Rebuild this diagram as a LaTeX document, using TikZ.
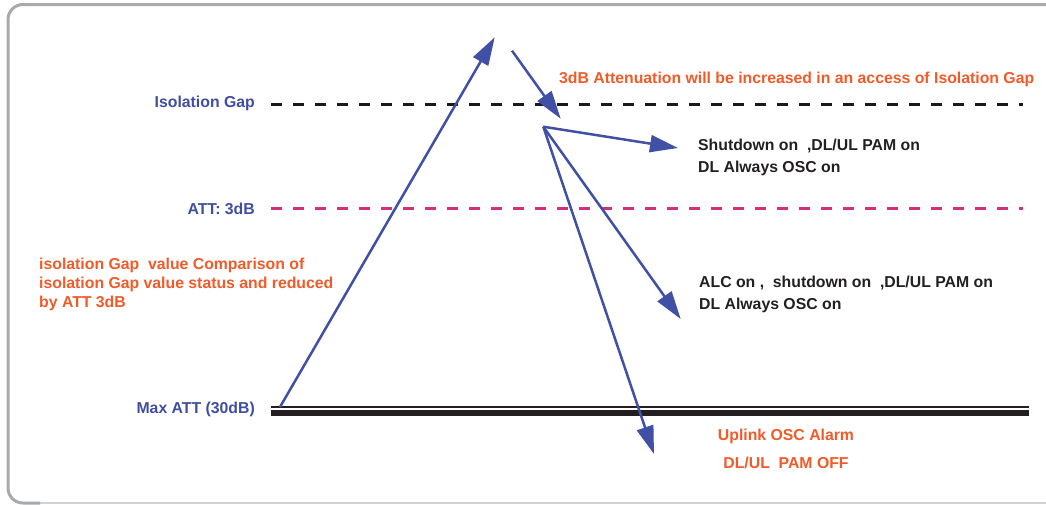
\documentclass[tikz,border=0pt]{standalone}
\usepackage{fontspec}
\setmainfont{Liberation Sans}
\usetikzlibrary{arrows.meta}
\definecolor{lblblue}{RGB}{63,78,158}
\definecolor{arrblue}{RGB}{64,80,164}
\definecolor{orng}{RGB}{241,90,41}
\definecolor{mgnt}{RGB}{214,45,125}
\definecolor{txtblack}{RGB}{35,31,32}
\definecolor{framegray}{RGB}{167,169,172}
\definecolor{framelight}{RGB}{209,211,212}
\begin{document}
\begin{tikzpicture}[x=1pt,y=-1pt,
  lvl/.style={font=\fontsize{15.8}{19}\selectfont\bfseries, text=lblblue, anchor=east, inner sep=0pt},
  note/.style={font=\fontsize{15.8}{22}\selectfont\bfseries, text=txtblack, anchor=west, align=left, inner sep=0pt},
  warn/.style={font=\fontsize{15.8}{19}\selectfont\bfseries, text=orng, inner sep=0pt},
  flow/.style={draw=arrblue, line width=2.5pt, -{Triangle[length=28pt,width=17pt]}},
  gapline/.style={line width=3pt, dash pattern=on 11pt off 11pt}]
\useasboundingbox (0,0) rectangle (1046,504);
\begin{scope}
\clip (0,0) rectangle (1046,504);
% frame
\draw[framelight, line width=1.5pt] (30,503) -- (1060,503);
\draw[framegray, line width=3pt, rounded corners=15pt] (1060,4.5) -- (8,4.5) -- (8,503) -- (40,503);
% level lines
\node[lvl] (isogap) at (255,103) {Isolation Gap};
\node[lvl] (att3) at (255,209) {ATT: 3dB};
\node[lvl] (maxatt) at (255,409) {Max ATT (30dB)};
\coordinate (isoL) at (271,104);
\coordinate (isoR) at (1023,104);
\coordinate (attL) at (271,208);
\coordinate (attR) at (1023,208);
\coordinate (maxL) at (271,406.7);
\coordinate (maxR) at (1029,406.7);
\coordinate (maxLb) at (271,413);
\coordinate (maxRb) at (1029,413);
\draw[gapline, black!90] (isoL) -- (isoR);
\draw[gapline, mgnt] (attL) -- (attR);
\draw[txtblack, line width=2pt] (maxL) -- (maxR);
\draw[txtblack, line width=5.3pt] (maxLb) -- (maxRb);
% texts
\node[warn, anchor=west] (incr) at (559,79) {3dB Attenuation will be increased in an access of Isolation Gap};
\node[warn, anchor=west, align=left] (cmp) at (39,284) {isolation Gap\ \ value Comparison of\\isolation Gap value status and reduced\\by ATT 3dB};
\node[note] (shut) at (698,157) {Shutdown on\ \ ,DL/UL PAM on\\DL Always OSC on};
\node[note] (alc) at (699,294) {ALC on ,\ \ shutdown on\ \ ,DL/UL PAM on\\DL Always OSC on};
\node[warn, align=center, font=\fontsize{15.8}{28}\selectfont\bfseries] (ulosc) at (786,449) {Uplink OSC Alarm\\DL/UL\ \ PAM OFF};
% arrows
\coordinate (up0) at (280,407);
\coordinate (up1) at (494.7,37.3);
\coordinate (dn0) at (512,50.7);
\coordinate (dn1) at (560.7,118.7);
\coordinate (fan) at (543.3,126.7);
\coordinate (t1) at (678,148);
\coordinate (t2) at (680.7,319);
\coordinate (t3) at (654,454);
\draw[flow] (up0) -- (up1);
\draw[flow] (dn0) -- (dn1);
\draw[flow] (fan) -- (t1);
\draw[flow] (fan) -- (t2);
\draw[flow] (fan) -- (t3);
\end{scope}
\end{tikzpicture}
\end{document}
